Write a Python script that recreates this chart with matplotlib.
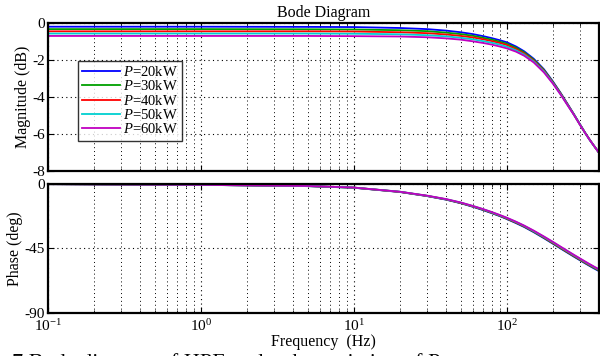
import numpy as np
import matplotlib
matplotlib.use('Agg')
import matplotlib.pyplot as plt
from matplotlib.ticker import LogLocator, NullFormatter

plt.rcParams['font.family'] = ['Liberation Serif', 'DejaVu Serif']
plt.rcParams['mathtext.fontset'] = 'custom'
plt.rcParams['mathtext.rm'] = 'Liberation Serif'
plt.rcParams['mathtext.it'] = 'Liberation Serif:italic'
plt.rcParams['axes.unicode_minus'] = False

# frequency points (Hz)
freq = [0.1, 1, 5, 10, 20, 30, 40, 50, 60, 70, 80, 90, 100, 115, 130, 150, 175, 200, 225, 250, 275, 300, 325, 350, 375, 400]

# magnitude (dB)
mag_20 = [-0.20, -0.20, -0.21, -0.22, -0.27, -0.33, -0.41, -0.50, -0.60, -0.71, -0.82, -0.93, -1.04, -1.27, -1.53, -1.93, -2.50, -3.15, -3.78, -4.38, -4.93, -5.45, -5.92, -6.33, -6.68, -7.00]
mag_30 = [-0.33, -0.33, -0.34, -0.35, -0.39, -0.44, -0.52, -0.60, -0.69, -0.80, -0.90, -1.01, -1.12, -1.34, -1.59, -1.98, -2.54, -3.18, -3.80, -4.40, -4.94, -5.46, -5.93, -6.33, -6.68, -7.00]
mag_40 = [-0.45, -0.45, -0.45, -0.46, -0.50, -0.55, -0.62, -0.70, -0.78, -0.88, -0.98, -1.08, -1.19, -1.41, -1.65, -2.03, -2.58, -3.21, -3.82, -4.41, -4.95, -5.47, -5.93, -6.33, -6.68, -7.00]
mag_50 = [-0.57, -0.57, -0.57, -0.58, -0.61, -0.66, -0.72, -0.80, -0.88, -0.98, -1.07, -1.17, -1.28, -1.48, -1.71, -2.08, -2.62, -3.24, -3.85, -4.43, -4.96, -5.47, -5.94, -6.34, -6.68, -7.00]
mag_60 = [-0.70, -0.70, -0.70, -0.71, -0.73, -0.77, -0.83, -0.90, -0.99, -1.08, -1.17, -1.27, -1.37, -1.55, -1.77, -2.13, -2.67, -3.27, -3.87, -4.45, -4.97, -5.48, -5.94, -6.34, -6.68, -7.00]

# phase (deg)
ph_20 = [-0.1, -0.6, -1.5, -2.6, -5.6, -8.4, -10.9, -13.4, -15.9, -18.2, -20.4, -22.4, -24.4, -27.3, -30.0, -33.6, -37.8, -41.6, -45.0, -48.0, -50.7, -53.1, -55.3, -57.3, -59.1, -60.7]
ph_30 = [-0.1, -0.6, -1.5, -2.6, -5.5, -8.3, -10.8, -13.3, -15.7, -18.0, -20.2, -22.2, -24.2, -27.0, -29.7, -33.3, -37.5, -41.3, -44.7, -47.7, -50.4, -52.8, -55.0, -57.0, -58.7, -60.4]
ph_40 = [-0.1, -0.6, -1.4, -2.5, -5.5, -8.3, -10.7, -13.2, -15.6, -17.8, -20.0, -22.0, -24.0, -26.8, -29.5, -33.0, -37.2, -41.0, -44.4, -47.4, -50.1, -52.5, -54.7, -56.7, -58.4, -60.0]
ph_50 = [-0.1, -0.6, -1.4, -2.5, -5.4, -8.2, -10.6, -13.0, -15.4, -17.6, -19.8, -21.8, -23.7, -26.5, -29.2, -32.8, -36.9, -40.6, -44.0, -47.0, -49.7, -52.1, -54.3, -56.3, -58.1, -59.7]
ph_60 = [-0.1, -0.6, -1.4, -2.5, -5.4, -8.1, -10.5, -12.9, -15.3, -17.5, -19.6, -21.6, -23.5, -26.3, -29.0, -32.5, -36.6, -40.3, -43.7, -46.7, -49.4, -51.8, -54.0, -56.0, -57.8, -59.4]

labels = [r'$\it{P}$=20kW', r'$\it{P}$=30kW', r'$\it{P}$=40kW', r'$\it{P}$=50kW', r'$\it{P}$=60kW']
colors = ['#0000ff', '#00a000', '#ff0000', '#00d0d0', '#c000c0']
mags = [mag_20, mag_30, mag_40, mag_50, mag_60]
phases = [ph_20, ph_30, ph_40, ph_50, ph_60]

fig = plt.figure(figsize=(6.0, 3.56), dpi=100)
ax1 = fig.add_axes([0.08, 0.5197, 0.918, 0.4157])
ax2 = fig.add_axes([0.08, 0.1208, 0.918, 0.3624])

for m, p, c, l in zip(mags, phases, colors, labels):
    ax1.plot(freq, m, color=c, lw=1.3, label=l)
    ax2.plot(freq, p, color=c, lw=1.3)

for ax in (ax1, ax2):
    ax.set_xscale('log')
    ax.set_xlim(0.1, 400)
    ax.xaxis.set_minor_locator(LogLocator(base=10, subs=np.arange(2, 10), numticks=20))
    ax.xaxis.set_minor_formatter(NullFormatter())
    ax.grid(True, which='major', ls=(0, (1, 3)), color='k', lw=0.8)
    ax.grid(True, which='minor', axis='x', ls=(0, (1, 3)), color='k', lw=0.7)
    ax.tick_params(which='both', direction='in', top=True, right=True, labelsize=11)
    ax.tick_params(which='major', length=4, pad=2)
    ax.tick_params(which='minor', length=2)
    for s in ax.spines.values():
        s.set_linewidth(1.6)

ax1.set_ylim(-8, 0)
ax1.set_yticks([-8, -6, -4, -2, 0])
ax1.tick_params(axis='x', labelbottom=False)
ax1.set_ylabel('Magnitude (dB)', fontsize=11.5, labelpad=1)
ax1.set_title('Bode Diagram', fontsize=11.5, pad=4)
ax1.legend(loc='upper left', bbox_to_anchor=(0.054, 0.745), frameon=True, fancybox=False,
           edgecolor='k', fontsize=10.5, handlelength=2.6, handletextpad=0.2,
           labelspacing=0.02, borderpad=0.3, borderaxespad=0).get_frame().set_linewidth(1.0)

ax2.set_ylim(-90, 0)
ax2.set_yticks([-90, -45, 0])
ax2.tick_params(axis='x', which='major', pad=4)
# the -90 label sits a little above its line, as in the source
ax2.get_yticklabels()[0].set_va('center_baseline')
ax2.set_ylabel('Phase (deg)', fontsize=11.5, labelpad=1)
ax2.set_xlabel('Frequency  (Hz)', fontsize=11.5, labelpad=0)

# caption, cut at the bottom edge as in the source
fig.text(0.02, 0.009, '7 Bode diagram of HPF under the variation of P', fontsize=16,
         va='top', ha='left')

fig.savefig('out.png', dpi=100)
